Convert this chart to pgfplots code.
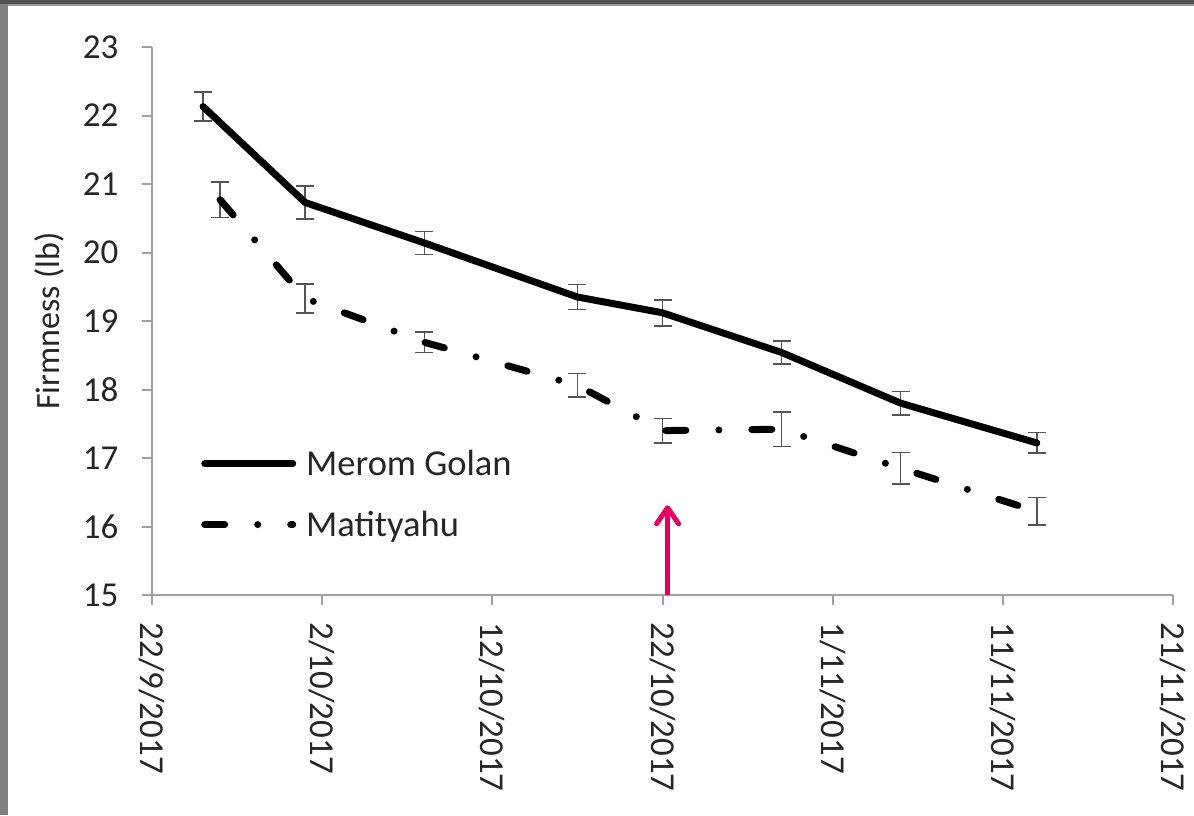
\documentclass[border=0pt]{standalone}
\usepackage{fontspec}
\setmainfont{Carlito}
\usepackage{pgfplots}
\pgfplotsset{compat=1.18}
\usetikzlibrary{arrows.meta}
\definecolor{arrowred}{RGB}{228,0,96}
\definecolor{ebar}{RGB}{85,85,85}
\definecolor{axgray}{RGB}{160,160,160}
\begin{document}
\begin{tikzpicture}[x=1pt,y=1pt]
\fill[white] (0,0) rectangle (1194,815);
\fill[black!50] (0,0) rectangle (8,815);
\fill[black!68] (0,811) rectangle (1194,815);
\fill[black!40] (8,809) rectangle (1194,811);
\begin{axis}[
  at={(152pt,220pt)}, anchor=south west,
  scale only axis, width=1021pt, height=548pt,
  xmin=0, xmax=60, ymin=15, ymax=23,
  axis x line*=bottom, axis y line*=left,
  axis line style={axgray, line width=2pt},
  tick style={axgray, line width=2pt},
  tick align=outside, major tick length=10pt,
  xtick={0,10,...,60}, ytick={15,16,...,23},
  xticklabels={22/9/2017,2/10/2017,12/10/2017,22/10/2017,1/11/2017,11/11/2017,21/11/2017},
  /pgf/number format/assume math mode=true,
  xticklabel shift=14pt, yticklabel shift=20pt,
  x tick label style={rotate=-90, anchor=west, font=\fontsize{35}{42}\selectfont, text=black!85},
  y tick label style={font=\fontsize{35}{42}\selectfont, text=black!85},
  ylabel={Firmness (lb)},
  ylabel shift=12pt,
  ylabel style={font=\fontsize{34}{40}\selectfont, text=black!85},
  legend style={draw=none, fill=none, at={(0.048,0.268)}, anchor=north west,
     font=\fontsize{36.5}{43}\selectfont, row sep=30pt, inner sep=0pt,
     nodes={inner sep=2pt, text=black!85}},
  legend cell align=left,
  legend image code/.code={\draw[#1] (0pt,0pt) -- (88pt,0pt);},
  legend style={/tikz/every odd column/.append style={column sep=8pt}},
]
% error bars (behind lines)
\addplot[draw=none, forget plot, error bars/.cd, y dir=both, y explicit,
  error bar style={ebar, line width=1.5pt, solid},
  error mark options={rotate=90, mark size=9pt, ebar, line width=1.5pt, solid}]
  coordinates {
  (3,22.13) +- (0,0.21)
  (9,20.73) +- (0,0.24)
  (16,20.14) +- (0,0.17)
  (25,19.35) +- (0,0.18)
  (30,19.12) +- (0,0.19)
  (37,18.54) +- (0,0.17)
  (44,17.80) +- (0,0.17)
  (52,17.22) +- (0,0.15)
  };
\addplot[draw=none, forget plot, error bars/.cd, y dir=both, y explicit,
  error bar style={ebar, line width=1.5pt, solid},
  error mark options={rotate=90, mark size=9pt, ebar, line width=1.5pt, solid}]
  coordinates {
  (4,20.77) +- (0,0.26)
  (9,19.33) +- (0,0.21)
  (16,18.69) +- (0,0.15)
  (25,18.06) +- (0,0.17)
  (30,17.40) +- (0,0.18)
  (37,17.42) +- (0,0.25)
  (44,16.85) +- (0,0.23)
  (52,16.22) +- (0,0.20)
  };
\addplot[black, line width=7pt, line join=round, line cap=round, mark=none]
  coordinates {
  (3,22.13) (9,20.73) (16,20.14) (25,19.35) (30,19.12) (37,18.54) (44,17.80) (52,17.22)
  };
\addlegendentry{Merom Golan}
\addplot[black, line width=7pt, line join=round, line cap=round, mark=none,
  dash pattern=on 20pt off 33pt on 0pt off 33pt]
  coordinates {
  (4,20.77) (9,19.33) (16,18.69) (25,18.06) (30,17.40) (37,17.42) (44,16.85) (52,16.22)
  };
\addlegendentry{Matityahu}
\draw[arrowred, line width=5pt, -{Straight Barb[length=16pt,width=22pt,round]}]
  (axis cs:30.3,15) -- (axis cs:30.3,16.31);
\end{axis}
\end{tikzpicture}
\end{document}
